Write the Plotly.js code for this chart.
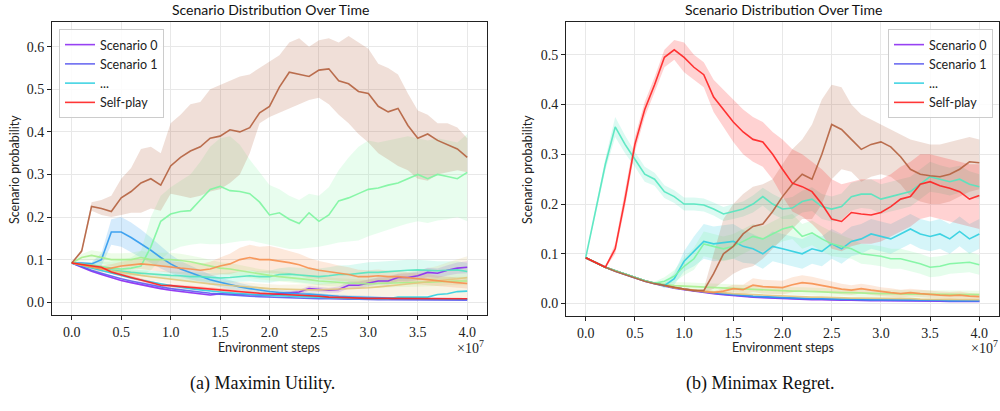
<!DOCTYPE html>
<html>
<head>
<meta charset="utf-8">
<script src="https://cdn.plot.ly/plotly-3.0.1.min.js"></script>
<style>html,body{margin:0;padding:0;background:#fff;}#chart{width:1000px;height:411px;}</style>
</head>
<body>
<div id="chart"></div>
<script>
// Environment steps (x 1e7)
const STEPS = [0.0,0.1,0.2,0.3,0.4,0.5,0.6,0.7,0.8,0.9,1.0,1.1,1.2,1.3,1.4,1.5,1.6,1.7,1.8,1.9,2.0,2.1,2.2,2.3,2.4,2.5,2.6,2.7,2.8,2.9,3.0,3.1,3.2,3.3,3.4,3.5,3.6,3.7,3.8,3.9,4.0];

const SUBPLOT_TITLE = "Scenario Distribution Over Time";
const X_LABEL = "Environment steps";
const Y_LABEL = "Scenario probability";
const CAPTIONS = ["(a) Maximin Utility.", "(b) Minimax Regret."];
const LEGEND_NAMES = ["Scenario 0", "Scenario 1", "...", "Self-play"];
const X_TICKS = [0.0,0.5,1.0,1.5,2.0,2.5,3.0,3.5,4.0];
const Y_TICKS_L = [0.0,0.1,0.2,0.3,0.4,0.5,0.6];
const Y_TICKS_R = [0.0,0.1,0.2,0.3,0.4,0.5];

// ---------- (a) Maximin Utility ----------
const L_S0 = [0.092,0.082,0.073,0.065,0.058,0.051,0.046,0.041,0.036,0.032, 0.028,0.025,0.022,0.019,0.017,0.02,0.019,0.018,0.017,0.017, 0.016,0.02,0.022,0.024,0.032,0.03,0.028,0.03,0.04,0.04, 0.045,0.05,0.05,0.058,0.058,0.062,0.07,0.068,0.075,0.08, 0.082];
const L_S0_SPREAD = [0.001,0.002,0.002,0.002,0.002,0.002,0.002,0.002,0.002,0.002, 0.002,0.002,0.002,0.002,0.002,0.003,0.003,0.003,0.003,0.003, 0.003,0.004,0.004,0.005,0.006,0.006,0.006,0.007,0.008,0.008, 0.008,0.008,0.009,0.009,0.01,0.01,0.011,0.011,0.012,0.013, 0.014];
const L_S1 = [0.092,0.083,0.075,0.068,0.061,0.055,0.05,0.045,0.04,0.036, 0.032,0.029,0.026,0.023,0.021,0.019,0.017,0.015,0.014,0.013, 0.012,0.011,0.01,0.009,0.009,0.008,0.008,0.007,0.007,0.007, 0.006,0.006,0.006,0.006,0.006,0.005,0.005,0.005,0.005,0.005, 0.005];
const L_S2 = [0.092,0.092,0.09,0.1,0.165,0.165,0.152,0.138,0.122,0.105, 0.09,0.078,0.07,0.062,0.053,0.047,0.041,0.036,0.032,0.028, 0.025,0.023,0.021,0.02,0.019,0.017,0.015,0.014,0.013,0.012, 0.011,0.01,0.01,0.009,0.009,0.008,0.008,0.008,0.007,0.007, 0.007];
const L_S2_SPREAD = [0.002,0.003,0.004,0.015,0.03,0.035,0.035,0.033,0.03,0.026, 0.022,0.019,0.016,0.014,0.012,0.011,0.01,0.009,0.008,0.007, 0.007,0.006,0.006,0.005,0.005,0.005,0.004,0.004,0.004,0.004, 0.003,0.003,0.003,0.003,0.003,0.003,0.003,0.003,0.003,0.003, 0.003];
const L_S3 = [0.092,0.086,0.08,0.074,0.068,0.062,0.057,0.052,0.047,0.043, 0.039,0.035,0.032,0.029,0.026,0.024,0.022,0.02,0.018,0.017, 0.016,0.015,0.014,0.013,0.012,0.011,0.01,0.01,0.009,0.009, 0.008,0.008,0.008,0.012,0.012,0.012,0.012,0.018,0.02,0.025, 0.026];
const L_S4 = [0.092,0.088,0.083,0.078,0.075,0.072,0.07,0.068,0.066,0.065, 0.063,0.062,0.06,0.06,0.058,0.057,0.058,0.06,0.062,0.06, 0.06,0.065,0.066,0.064,0.062,0.06,0.062,0.065,0.065,0.068, 0.07,0.07,0.072,0.074,0.075,0.076,0.075,0.074,0.075,0.076, 0.072];
const L_S4_SPREAD = [0.002,0.004,0.005,0.005,0.006,0.006,0.007,0.007,0.008,0.008, 0.009,0.009,0.01,0.01,0.011,0.011,0.012,0.012,0.013,0.013, 0.014,0.015,0.016,0.017,0.018,0.019,0.02,0.021,0.022,0.023, 0.024,0.025,0.025,0.025,0.025,0.024,0.023,0.022,0.021,0.02, 0.02];
const L_S5 = [0.092,0.09,0.087,0.084,0.08,0.078,0.08,0.085,0.13,0.19, 0.207,0.213,0.215,0.24,0.265,0.272,0.262,0.26,0.255,0.235, 0.205,0.21,0.195,0.185,0.21,0.19,0.205,0.238,0.245,0.255, 0.265,0.268,0.275,0.28,0.29,0.3,0.29,0.3,0.295,0.29, 0.305];
const L_S5_HI = [0.092,0.095,0.095,0.095,0.095,0.1,0.105,0.12,0.2,0.25, 0.27,0.285,0.3,0.33,0.365,0.385,0.39,0.37,0.335,0.305, 0.275,0.265,0.25,0.24,0.255,0.25,0.27,0.31,0.34,0.365, 0.38,0.375,0.38,0.385,0.39,0.385,0.38,0.385,0.38,0.375, 0.395];
const L_S5_LO = [0.092,0.085,0.08,0.075,0.07,0.065,0.06,0.062,0.075,0.1, 0.12,0.13,0.135,0.138,0.136,0.136,0.14,0.143,0.145,0.14, 0.135,0.13,0.125,0.125,0.128,0.13,0.135,0.14,0.142,0.145, 0.155,0.162,0.17,0.178,0.185,0.19,0.186,0.192,0.195,0.2, 0.19];
const L_S6 = [0.092,0.105,0.11,0.105,0.1,0.1,0.1,0.105,0.1,0.1, 0.1,0.098,0.095,0.09,0.085,0.08,0.078,0.074,0.07,0.066, 0.063,0.06,0.058,0.056,0.053,0.05,0.048,0.046,0.045,0.044, 0.043,0.044,0.045,0.046,0.046,0.047,0.047,0.048,0.05,0.05, 0.05];
const L_S6_SPREAD = [0.002,0.008,0.012,0.014,0.015,0.015,0.016,0.016,0.016,0.016, 0.016,0.016,0.015,0.015,0.015,0.014,0.014,0.013,0.013,0.012, 0.012,0.012,0.011,0.011,0.011,0.01,0.01,0.01,0.01,0.01, 0.01,0.01,0.01,0.01,0.01,0.01,0.01,0.01,0.01,0.01, 0.01];
const L_S7 = [0.092,0.087,0.082,0.078,0.074,0.07,0.066,0.063,0.06,0.057, 0.054,0.051,0.048,0.046,0.043,0.041,0.039,0.037,0.035,0.033, 0.032,0.031,0.03,0.03,0.029,0.029,0.03,0.03,0.031,0.032, 0.034,0.036,0.038,0.04,0.042,0.045,0.048,0.05,0.053,0.055, 0.058];
const L_S7_SPREAD = [0.002,0.004,0.005,0.006,0.007,0.008,0.008,0.009,0.009,0.01, 0.01,0.01,0.01,0.01,0.01,0.01,0.01,0.01,0.01,0.01, 0.01,0.01,0.011,0.012,0.013,0.014,0.015,0.016,0.017,0.018, 0.02,0.022,0.024,0.026,0.028,0.03,0.032,0.035,0.04,0.045, 0.05];
const L_S8 = [0.092,0.088,0.083,0.078,0.08,0.085,0.088,0.09,0.088,0.085, 0.082,0.08,0.078,0.075,0.078,0.085,0.09,0.1,0.105,0.1, 0.1,0.097,0.093,0.088,0.08,0.075,0.072,0.068,0.065,0.06, 0.06,0.062,0.06,0.06,0.057,0.055,0.053,0.05,0.048,0.046, 0.044];
const L_S8_SPREAD = [0.002,0.005,0.007,0.008,0.009,0.01,0.011,0.012,0.013,0.013, 0.014,0.014,0.015,0.015,0.017,0.02,0.024,0.028,0.03,0.03, 0.032,0.03,0.028,0.026,0.024,0.022,0.02,0.018,0.017,0.016, 0.015,0.015,0.014,0.014,0.013,0.013,0.013,0.012,0.012,0.012, 0.012];
const L_S9 = [0.092,0.12,0.225,0.22,0.213,0.245,0.26,0.28,0.29,0.275, 0.32,0.34,0.355,0.365,0.385,0.39,0.405,0.4,0.41,0.445, 0.46,0.505,0.54,0.535,0.53,0.545,0.548,0.52,0.513,0.495, 0.49,0.46,0.447,0.455,0.415,0.385,0.395,0.38,0.37,0.36, 0.34];
const L_S9_HI = [0.092,0.125,0.235,0.24,0.25,0.29,0.315,0.36,0.365,0.35, 0.42,0.44,0.465,0.47,0.5,0.51,0.52,0.53,0.535,0.55, 0.565,0.58,0.61,0.62,0.6,0.615,0.62,0.61,0.625,0.61, 0.595,0.56,0.55,0.535,0.49,0.45,0.44,0.42,0.42,0.41, 0.385];
const L_S9_LO = [0.092,0.115,0.215,0.205,0.2,0.205,0.21,0.21,0.22,0.215, 0.255,0.25,0.245,0.25,0.26,0.265,0.28,0.3,0.35,0.42, 0.435,0.445,0.455,0.465,0.475,0.48,0.465,0.44,0.42,0.395, 0.375,0.35,0.335,0.32,0.31,0.29,0.285,0.3,0.305,0.31, 0.305];
const L_SP = [0.092,0.089,0.086,0.082,0.071,0.064,0.058,0.052,0.046,0.04, 0.039,0.037,0.035,0.033,0.031,0.029,0.027,0.024,0.022,0.021, 0.02,0.019,0.018,0.017,0.016,0.014,0.012,0.011,0.01,0.01, 0.009,0.009,0.009,0.008,0.008,0.008,0.008,0.008,0.008,0.008, 0.008];
const L_SP_SPREAD = [0.001,0.002,0.003,0.003,0.004,0.004,0.004,0.004,0.004,0.004, 0.004,0.004,0.004,0.004,0.004,0.004,0.004,0.003,0.003,0.003, 0.003,0.003,0.003,0.003,0.003,0.003,0.002,0.002,0.002,0.002, 0.002,0.002,0.002,0.002,0.002,0.002,0.002,0.002,0.002,0.002, 0.002];

// ---------- (b) Minimax Regret ----------
const R_S0 = [0.092,0.082,0.073,0.065,0.058,0.051,0.045,0.04,0.035,0.031, 0.028,0.025,0.022,0.02,0.018,0.016,0.014,0.013,0.012,0.011, 0.01,0.009,0.009,0.008,0.008,0.007,0.007,0.007,0.006,0.006, 0.006,0.006,0.005,0.005,0.005,0.005,0.005,0.004,0.004,0.004, 0.004];
const R_S1 = [0.092,0.082,0.073,0.066,0.059,0.052,0.046,0.041,0.036,0.032, 0.029,0.026,0.023,0.021,0.019,0.017,0.015,0.014,0.013,0.012, 0.011,0.01,0.01,0.009,0.009,0.008,0.008,0.008,0.007,0.007, 0.007,0.007,0.006,0.006,0.006,0.006,0.006,0.005,0.005,0.005, 0.005];
const R_S2 = [0.092,0.082,0.073,0.066,0.059,0.052,0.046,0.041,0.036,0.032, 0.029,0.026,0.024,0.022,0.02,0.018,0.016,0.015,0.014,0.013, 0.012,0.011,0.011,0.01,0.01,0.009,0.009,0.009,0.008,0.008, 0.008,0.008,0.007,0.007,0.007,0.007,0.007,0.006,0.006,0.006, 0.006];
const R_S3 = [0.092,0.082,0.073,0.066,0.059,0.052,0.046,0.041,0.036,0.05, 0.085,0.105,0.125,0.12,0.122,0.125,0.115,0.11,0.1,0.115, 0.11,0.105,0.1,0.11,0.105,0.12,0.11,0.125,0.13,0.14, 0.135,0.13,0.14,0.15,0.14,0.135,0.14,0.13,0.145,0.13, 0.14];
const R_S3_SPREAD = [0,0,0,0,0,0,0,0,0.005,0.012, 0.02,0.03,0.035,0.035,0.035,0.035,0.033,0.03,0.03,0.03, 0.03,0.03,0.03,0.03,0.03,0.03,0.03,0.03,0.03,0.03, 0.03,0.03,0.03,0.03,0.03,0.03,0.03,0.03,0.03,0.03, 0.03];
const R_S4 = [0.092,0.185,0.28,0.355,0.32,0.29,0.26,0.25,0.225,0.215, 0.2,0.2,0.198,0.19,0.18,0.185,0.19,0.2,0.215,0.2, 0.19,0.192,0.205,0.21,0.195,0.19,0.195,0.215,0.22,0.22, 0.21,0.215,0.22,0.225,0.24,0.255,0.25,0.245,0.25,0.24, 0.235];
const R_S4_SPREAD = [0,0.008,0.012,0.02,0.018,0.015,0.015,0.013,0.013,0.013, 0.013,0.013,0.013,0.013,0.014,0.015,0.015,0.017,0.018,0.02, 0.02,0.022,0.022,0.024,0.025,0.025,0.026,0.028,0.028,0.03, 0.03,0.03,0.03,0.03,0.03,0.03,0.028,0.028,0.027,0.026, 0.025];
const R_S5 = [0.092,0.082,0.073,0.066,0.059,0.052,0.046,0.041,0.045,0.055, 0.075,0.09,0.12,0.115,0.11,0.115,0.125,0.135,0.13,0.14, 0.15,0.155,0.135,0.142,0.13,0.12,0.115,0.11,0.1,0.098, 0.095,0.09,0.09,0.085,0.08,0.073,0.075,0.08,0.082,0.083, 0.078];
const R_S5_SPREAD = [0,0,0,0,0,0,0,0.003,0.008,0.012, 0.018,0.022,0.025,0.025,0.025,0.025,0.025,0.025,0.025,0.025, 0.025,0.025,0.025,0.025,0.025,0.025,0.022,0.02,0.02,0.02, 0.02,0.02,0.02,0.02,0.02,0.02,0.02,0.02,0.02,0.02, 0.02];
const R_S6 = [0.092,0.082,0.073,0.066,0.059,0.052,0.046,0.041,0.038,0.036, 0.035,0.034,0.034,0.033,0.032,0.03,0.029,0.028,0.027,0.027, 0.026,0.025,0.025,0.024,0.023,0.023,0.022,0.022,0.021,0.02, 0.02,0.02,0.019,0.019,0.019,0.019,0.019,0.019,0.018,0.018, 0.018];
const R_S6_SPREAD = [0,0,0,0,0,0,0,0.003,0.005,0.007, 0.008,0.008,0.008,0.008,0.008,0.008,0.008,0.008,0.008,0.008, 0.008,0.008,0.008,0.008,0.008,0.008,0.008,0.008,0.008,0.008, 0.008,0.008,0.008,0.008,0.008,0.008,0.008,0.008,0.008,0.008, 0.008];
const R_S7 = [0.092,0.082,0.073,0.066,0.059,0.052,0.046,0.041,0.036,0.032, 0.029,0.027,0.025,0.023,0.021,0.02,0.019,0.018,0.017,0.016, 0.015,0.014,0.014,0.013,0.013,0.012,0.012,0.011,0.011,0.011, 0.01,0.01,0.01,0.01,0.009,0.009,0.009,0.009,0.009,0.008, 0.008];
const R_S8 = [0.092,0.082,0.073,0.066,0.059,0.052,0.046,0.041,0.036,0.032, 0.029,0.026,0.024,0.022,0.025,0.03,0.028,0.037,0.034,0.033, 0.032,0.038,0.042,0.04,0.036,0.032,0.029,0.027,0.03,0.027, 0.024,0.022,0.02,0.022,0.02,0.018,0.017,0.016,0.017,0.015, 0.014];
const R_S8_SPREAD = [0,0,0,0,0,0,0,0,0,0, 0,0,0,0.003,0.006,0.008,0.01,0.014,0.014,0.014, 0.014,0.015,0.015,0.014,0.013,0.012,0.011,0.01,0.01,0.01, 0.009,0.009,0.008,0.008,0.008,0.007,0.007,0.007,0.007,0.006, 0.006];
const R_S9 = [0.092,0.082,0.073,0.065,0.058,0.051,0.045,0.04,0.036,0.032, 0.029,0.026,0.026,0.06,0.1,0.115,0.14,0.155,0.16,0.185, 0.215,0.24,0.26,0.25,0.3,0.36,0.35,0.33,0.31,0.32, 0.325,0.315,0.295,0.27,0.26,0.257,0.255,0.26,0.27,0.285, 0.283];
const R_S9_HI = [0.092,0.082,0.073,0.065,0.058,0.051,0.045,0.04,0.036,0.032, 0.029,0.027,0.03,0.1,0.17,0.2,0.22,0.235,0.24,0.25, 0.28,0.31,0.33,0.36,0.41,0.44,0.435,0.4,0.38,0.37, 0.36,0.35,0.34,0.33,0.325,0.32,0.32,0.325,0.33,0.335, 0.33];
const R_S9_LO = [0.092,0.082,0.073,0.065,0.058,0.051,0.045,0.04,0.036,0.032, 0.029,0.025,0.022,0.03,0.045,0.06,0.07,0.075,0.09,0.11, 0.13,0.15,0.17,0.17,0.2,0.25,0.27,0.265,0.245,0.255, 0.26,0.255,0.24,0.215,0.205,0.2,0.2,0.205,0.215,0.225, 0.23];
const R_SP = [0.092,0.082,0.073,0.11,0.21,0.32,0.39,0.44,0.495,0.51, 0.495,0.475,0.46,0.415,0.39,0.365,0.345,0.33,0.325,0.3, 0.27,0.242,0.235,0.225,0.2,0.17,0.165,0.183,0.18,0.178, 0.183,0.195,0.21,0.215,0.24,0.245,0.237,0.232,0.225,0.21, 0.217];
const R_SP_HI = [0.092,0.083,0.075,0.12,0.225,0.335,0.405,0.455,0.51,0.53, 0.525,0.5,0.485,0.45,0.43,0.41,0.39,0.375,0.365,0.345, 0.33,0.31,0.3,0.285,0.27,0.25,0.24,0.245,0.25,0.25, 0.25,0.26,0.275,0.285,0.3,0.3,0.295,0.29,0.285,0.28, 0.28];
const R_SP_LO = [0.092,0.081,0.071,0.1,0.195,0.305,0.375,0.425,0.475,0.49, 0.465,0.45,0.435,0.385,0.355,0.325,0.3,0.285,0.275,0.25, 0.215,0.185,0.175,0.16,0.14,0.11,0.105,0.115,0.12,0.12, 0.125,0.135,0.145,0.155,0.17,0.175,0.17,0.165,0.16,0.155, 0.15];

// colours
const COL = {
  s0:[140,44,242], s1:[92,92,240], s2:[47,154,238], s3:[47,207,224], s4:[82,230,191],
  s5:[125,245,160], s6:[166,238,140], s7:[226,199,126], s8:[247,144,79], s9:[180,96,62], sp:[255,32,32]
};
const rgb = c => `rgb(${c[0]},${c[1]},${c[2]})`;
const rgba = (c,a) => `rgba(${c[0]},${c[1]},${c[2]},${a})`;

const traces = [];
function bandLoHi(lo, hi, c, ax, a) {
  traces.push({
    x: STEPS.concat(STEPS.slice().reverse()),
    y: hi.concat(lo.slice().reverse()),
    xaxis: ax[0], yaxis: ax[1], mode: 'lines', fill: 'toself',
    fillcolor: rgba(c, a === undefined ? 0.2 : a), line: {width: 0, color: 'rgba(0,0,0,0)'},
    hoverinfo: 'skip', showlegend: false
  });
}
function bandSpread(mean, spr, c, ax, a) {
  const lo = mean.map((v, i) => Math.max(0, v - spr[i]));
  const hi = mean.map((v, i) => v + spr[i]);
  bandLoHi(lo, hi, c, ax, a);
}
function line(y, c, ax, opts) {
  const t = {x: STEPS, y: y, xaxis: ax[0], yaxis: ax[1], mode: 'lines',
    line: {color: rgb(c), width: 1.6}, opacity: 0.9, showlegend: false, hoverinfo: 'skip'};
  Object.assign(t, opts || {});
  traces.push(t);
}
const AL = ['x', 'y'], AR = ['x2', 'y2'];

// bands (a)
bandSpread(L_S0, L_S0_SPREAD, COL.s0, AL);
bandSpread(L_S2, L_S2_SPREAD, COL.s2, AL);
bandSpread(L_S4, L_S4_SPREAD, COL.s4, AL);
bandLoHi(L_S5_LO, L_S5_HI, COL.s5, AL, 0.18);
bandSpread(L_S6, L_S6_SPREAD, COL.s6, AL);
bandSpread(L_S7, L_S7_SPREAD, COL.s7, AL);
bandSpread(L_S8, L_S8_SPREAD, COL.s8, AL);
bandLoHi(L_S9_LO, L_S9_HI, COL.s9, AL);
bandSpread(L_SP, L_SP_SPREAD, COL.sp, AL);
// bands (b)
bandSpread(R_S3, R_S3_SPREAD, COL.s3, AR);
bandSpread(R_S4, R_S4_SPREAD, COL.s4, AR);
bandSpread(R_S5, R_S5_SPREAD, COL.s5, AR);
bandSpread(R_S6, R_S6_SPREAD, COL.s6, AR);
bandSpread(R_S8, R_S8_SPREAD, COL.s8, AR);
bandLoHi(R_S9_LO, R_S9_HI, COL.s9, AR);
bandLoHi(R_SP_LO, R_SP_HI, COL.sp, AR);

// lines (a)
line(L_S0, COL.s0, AL, {name: LEGEND_NAMES[0], showlegend: true, legend: 'legend', legendrank: 1});
line(L_S1, COL.s1, AL, {name: LEGEND_NAMES[1], showlegend: true, legend: 'legend', legendrank: 2});
line(L_S2, COL.s2, AL);
line(L_S3, COL.s3, AL, {name: LEGEND_NAMES[2], showlegend: true, legend: 'legend', legendrank: 3});
line(L_S4, COL.s4, AL);
line(L_S5, COL.s5, AL);
line(L_S6, COL.s6, AL);
line(L_S7, COL.s7, AL);
line(L_S8, COL.s8, AL);
line(L_S9, COL.s9, AL);
line(L_SP, COL.sp, AL, {name: LEGEND_NAMES[3], showlegend: true, legend: 'legend', legendrank: 4});
// lines (b)
line(R_S0, COL.s0, AR, {name: LEGEND_NAMES[0], showlegend: true, legend: 'legend2', legendrank: 1});
line(R_S1, COL.s1, AR, {name: LEGEND_NAMES[1], showlegend: true, legend: 'legend2', legendrank: 2});
line(R_S2, COL.s2, AR);
line(R_S7, COL.s7, AR);
line(R_S6, COL.s6, AR);
line(R_S8, COL.s8, AR);
line(R_S3, COL.s3, AR, {name: LEGEND_NAMES[2], showlegend: true, legend: 'legend2', legendrank: 3});
line(R_S5, COL.s5, AR);
line(R_S4, COL.s4, AR);
line(R_S9, COL.s9, AR);
line(R_SP, COL.sp, AR, {name: LEGEND_NAMES[3], showlegend: true, legend: 'legend2', legendrank: 4});

const SERIF = 'Liberation Serif';
const SANS = 'Lato';
function xax(domain, anchor) {
  return {domain: domain, anchor: anchor, range: [-0.2, 4.2], tickmode: 'array', tickvals: X_TICKS,
    ticktext: X_TICKS.map(v => v.toFixed(1)),
    showline: true, mirror: true, linecolor: '#222', linewidth: 1, ticks: 'outside', ticklen: 4,
    tickcolor: '#222', showgrid: true, gridcolor: '#e8e8e8', gridwidth: 1, zeroline: false,
    tickfont: {family: SERIF, size: 14, color: '#222'}};
}
function yax(domain, anchor, range, ticks) {
  return {domain: domain, anchor: anchor, range: range, tickmode: 'array', tickvals: ticks,
    ticktext: ticks.map(v => v.toFixed(1)),
    showline: true, mirror: true, linecolor: '#222', linewidth: 1, ticks: 'outside', ticklen: 4,
    tickcolor: '#222', showgrid: true, gridcolor: '#e8e8e8', gridwidth: 1, zeroline: false,
    tickfont: {family: SERIF, size: 14, color: '#222'}};
}
const W = 1000, H = 411;
const px = v => v / W, py = v => 1 - v / H;
const ann = [];
function text(t, x, y, font, extra) {
  ann.push(Object.assign({text: t, x: px(x), y: py(y), xref: 'paper', yref: 'paper', showarrow: false,
    xanchor: 'center', yanchor: 'middle', font: font}, extra || {}));
}
const sansFont = {family: SANS, size: 12.5, color: '#222'};
const titleFont = {family: SANS, size: 14, color: '#111'};
text(SUBPLOT_TITLE, 270, 10, titleFont);
text(SUBPLOT_TITLE, 783, 10, titleFont);
text(X_LABEL, 269, 347, sansFont);
text(X_LABEL, 783, 347, sansFont);
text(Y_LABEL, 15, 170, sansFont, {textangle: -90});
text(Y_LABEL, 528, 170, sansFont, {textangle: -90});
const expFont = {family: SERIF, size: 14, color: '#222'};
text('×10<sup>7</sup>', 470, 347, expFont);
text('×10<sup>7</sup>', 984, 347, expFont);
const capFont = {family: SERIF, size: 18, color: '#111'};
text(CAPTIONS[0], 262, 383, capFont);
text(CAPTIONS[1], 760, 383, capFont);

const legendCommon = {bgcolor: 'rgba(255,255,255,0.85)', bordercolor: '#cccccc', borderwidth: 1,
  font: {family: SANS, size: 12.5, color: '#222'}, yanchor: 'top',
  traceorder: 'normal', itemwidth: 30, tracegroupgap: 0};

const layout = {
  width: W, height: H, margin: {l: 0, r: 0, t: 0, b: 0}, paper_bgcolor: '#fff', plot_bgcolor: '#fff',
  font: {family: SERIF, size: 14, color: '#222'},
  showlegend: true,
  xaxis: xax([52 / W, 487 / W], 'y'),
  yaxis: yax([1 - 315 / H, 1 - 22 / H], 'x', [-0.03, 0.658], Y_TICKS_L),
  xaxis2: xax([566 / W, 999 / W], 'y2'),
  yaxis2: yax([1 - 316 / H, 1 - 22 / H], 'x2', [-0.025, 0.566], Y_TICKS_R),
  legend: Object.assign({}, legendCommon, {x: px(59), y: py(29), xanchor: 'left'}),
  legend2: Object.assign({}, legendCommon, {x: px(993), y: py(29), xanchor: 'right'}),
  annotations: ann
};
Plotly.newPlot('chart', traces, layout, {staticPlot: true, displayModeBar: false});
</script>
</body>
</html>
